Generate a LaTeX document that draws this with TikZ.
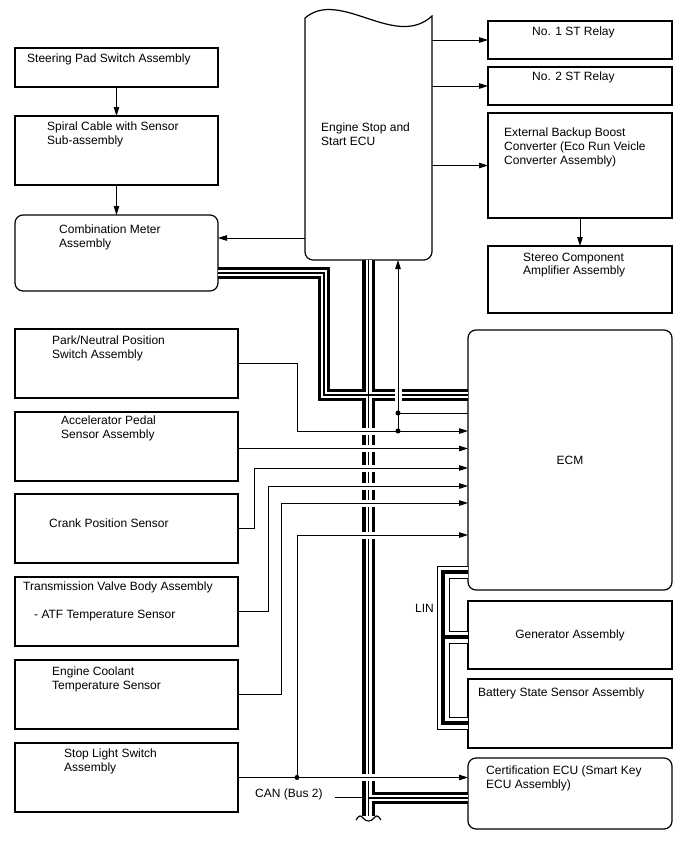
\documentclass[tikz,border=0pt]{standalone}
\usepackage{fontspec}
\setmainfont{Liberation Sans}
\usetikzlibrary{arrows.meta,positioning}

\begin{document}
\begin{tikzpicture}[
    x=1pt, y=-1pt,
    font=\fontsize{12}{13.8}\selectfont,
    block/.style={rectangle, draw, line width=1.2pt, inner sep=0pt, outer sep=0pt,
                  anchor=north west},
    lblock/.style={block, minimum width=223pt, minimum height=69pt},
    rblock/.style={block, minimum width=184pt},
    txt/.style={anchor=north west, inner sep=0pt, align=left},
    wire/.style={line width=1pt},
    arrow/.style={wire, -{Triangle[length=9pt, width=5.5pt]}},
    joint/.style={circle, fill, inner sep=0pt, minimum size=5pt},
]
\useasboundingbox (0,0) rectangle (688,852);

% Steering side
\node[block, minimum width=203pt, minimum height=39pt] (steer) at (15,48) {};
\node[block, minimum width=203pt, minimum height=69pt, below=29pt of steer] (spiral) {};
\node[block, minimum width=203pt, minimum height=76pt, rounded corners=8pt, below=30pt of spiral] (meter) {};

\node[txt] (tsteer) at ([xshift=12pt, yshift=-5.5pt]steer.north west) {Steering Pad Switch Assembly};
\node[txt] (tspiral) at ([xshift=32pt, yshift=-5.5pt]spiral.north west) {Spiral Cable with Sensor\\Sub-assembly};
\node[txt] (tmeter) at ([xshift=44pt, yshift=-9.5pt]meter.north west) {Combination Meter\\Assembly};

% Sensors
\node[lblock] (park) at (15,329) {};
\node[lblock, below=14pt of park] (accel) {};
\node[lblock, below=13pt of accel] (crank) {};
\node[lblock, below=14pt of crank] (trans) {};
\node[lblock, below=14pt of trans] (cool) {};
\node[lblock, below=14pt of cool] (stop) {};

\node[txt] (tpark) at ([xshift=37pt, yshift=-6.5pt]park.north west) {Park/Neutral Position\\Switch Assembly};
\node[txt] (taccel) at ([xshift=46pt, yshift=-4pt]accel.north west) {Accelerator Pedal\\Sensor Assembly};
\node[txt] (tcrank) at ([xshift=34pt, yshift=-24.5pt]crank.north west) {Crank Position Sensor};
\node[txt] (ttrans) at ([xshift=8pt, yshift=-4.5pt]trans.north west) {Transmission Valve Body Assembly\\[14pt]\hspace*{11pt}- ATF Temperature Sensor};
\node[txt] (tcool) at ([xshift=37pt, yshift=-6.5pt]cool.north west) {Engine Coolant\\Temperature Sensor};
\node[txt] (tstop) at ([xshift=49pt, yshift=-5.5pt]stop.north west) {Stop Light Switch\\Assembly};

% Engine stop and start ECU
\node[inner sep=0pt, outer sep=0pt, minimum width=127pt, minimum height=250pt, anchor=north west] (ecu) at (305,10) {};
\draw[line width=1.2pt] (305,18) .. controls (340,-12) and (395,50) .. (432,16)
    -- (432,252) .. controls (432,256.4) and (427.6,260) .. (424,260)
    -- (313,260) .. controls (308.6,260) and (305,256.4) .. (305,252) -- cycle;
\node[txt] (tecu) at (321,122.5) {Engine Stop and\\Start ECU};

% Outputs
\node[rblock, minimum height=38pt] (relay1) at (488,21) {};
\node[rblock, minimum height=38pt, below=8pt of relay1] (relay2) {};
\node[rblock, minimum height=105pt, below=8pt of relay2] (boost) {};
\node[rblock, minimum height=67pt, below=28pt of boost] (amp) {};

\node[txt] (trelay1) at ([xshift=44pt, yshift=-5.5pt]relay1.north west) {No. 1 ST Relay};
\node[txt] (trelay2) at ([xshift=44pt, yshift=-4.5pt]relay2.north west) {No. 2 ST Relay};
\node[txt] (tboost) at ([xshift=16pt, yshift=-14.5pt]boost.north west) {External Backup Boost\\Converter (Eco Run Veicle\\Converter Assembly)};
\node[txt] (tamp) at ([xshift=35pt, yshift=-6.5pt]amp.north west) {Stereo Component\\Amplifier Assembly};

% ECM and LIN members
\node[block, rounded corners=8pt, minimum width=204pt, minimum height=260pt] (ecm) at (468,330) {ECM};
\node[block, minimum width=204pt, minimum height=68pt, below=11pt of ecm] (gen) {Generator Assembly};
\node[block, minimum width=204pt, minimum height=69pt, below=10pt of gen] (batt) {};
\node[block, rounded corners=8pt, minimum width=204pt, minimum height=71pt, below=10pt of batt] (cert) {};

\node[txt] (tbatt) at ([xshift=10pt, yshift=-8.5pt]batt.north west) {Battery State Sensor Assembly};
\node[txt] (tcert) at ([xshift=18pt, yshift=-7.5pt]cert.north west) {Certification ECU (Smart Key\\ECU Assembly)};

% CAN bus
\coordinate (c1) at (324,273);
\coordinate (c2) at (324,395);
\coordinate (ctop) at (368.5,260);
\coordinate (cbot) at (368.5,816);
\coordinate (ccert) at (368.5,798);
\foreach \w/\col in {12.5/black, 6/white, 1.3/black}
  \draw[line width=\w pt, \col] (meter.east |- c1) -- (c1) -- (c2) -- (c2 -| ecm.west)
      (ctop) -- (cbot)
      (ccert) -- (ccert -| cert.west);
\draw[line width=1.2pt] (356,820) .. controls (359,815) and (361,815) .. (363,818)
    .. controls (366,822) and (371,822) .. (374,818) .. controls (376,815) and (378,815) .. (381,820);

% LIN bus
\coordinate (l1) at (443,572);
\coordinate (l2) at (443,723);
\coordinate (lg) at (443,637);
\foreach \w/\col in {13/black, 11/white, 4/black}
  \draw[line width=\w pt, \col] (l1 -| ecm.west) -- (l1) -- (l2) -- (l2 -| batt.west)
      (lg) -- (lg -| gen.west);

% crossings
\foreach \y in {431,448.5,468,486,503,535,777.5}
  \fill[white] (361,\y-3.5) rectangle (376,\y+3.5);
\fill[white] (394.5,387) rectangle (401.5,403);

% Signal lines
\coordinate (jp) at (297,431);
\coordinate (ja) at ([yshift=-2pt]accel.east);
\coordinate (jc) at (254,468);
\coordinate (jt) at (268,486);
\coordinate (jk) at (281,503);
\coordinate (js) at (297,535);
\coordinate (jf) at (398,413);

\draw[arrow] (steer) -- (spiral);
\draw[arrow] (spiral) -- (meter);
\draw[arrow] (ecu.west |- 0,238) -- (meter.east |- 0,238);
\draw[arrow] (relay1.west -| ecu.east) -- (relay1.west);
\draw[arrow] (relay2.west -| ecu.east) -- (relay2.west);
\draw[arrow] (boost.west -| ecu.east) -- (boost.west);
\draw[arrow] (boost) -- (amp);

\draw[arrow] (park.east) -| (jp) -- (jp -| ecm.west);
\draw[arrow] (ja) -- (ja -| ecm.west);
\draw[arrow] (crank.east) -| (jc) -- (jc -| ecm.west);
\draw[arrow] (trans.east) -| (jt) -- (jt -| ecm.west);
\draw[arrow] (cool.east) -| (jk) -- (jk -| ecm.west);
\draw[arrow] (stop.east -| js) -- (js) -- (js -| ecm.west);
\draw[arrow] (stop.east) -- (stop.east -| cert.west);
\draw[wire] (jf -| ecm.west) -- (jf);
\draw[arrow] (jp -| jf) -- (jf |- ecu.south);

\node[joint] (d1) at (jf) {};
\node[joint] (d2) at (jp -| jf) {};
\node[joint] (d3) at (stop.east -| js) {};

% Annotations
\coordinate (canpt) at (362,797);
\draw[wire] (canpt) -- ++(-27,0);
\node[anchor=west, inner sep=0pt] (canlbl) at (255,794) {CAN (Bus 2)};
\node[anchor=west, inner sep=0pt] (linlbl) at (415,608) {LIN};

\end{tikzpicture}
\end{document}
